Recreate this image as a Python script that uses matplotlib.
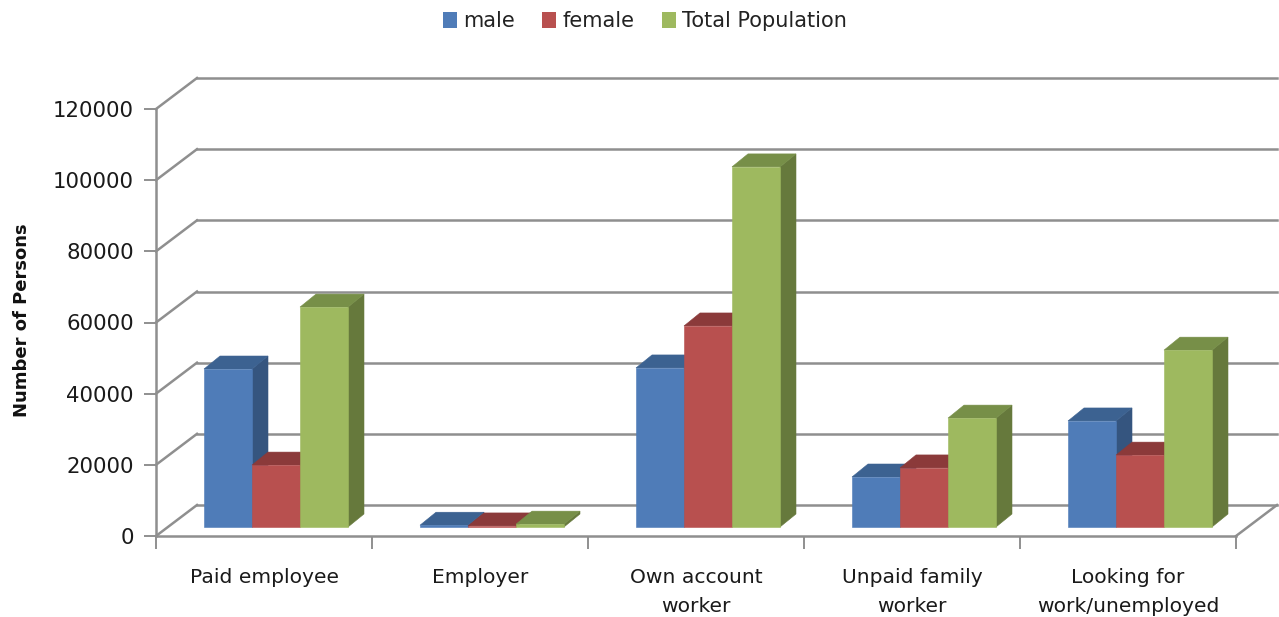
import numpy as np
import matplotlib
matplotlib.use('Agg')
import matplotlib.pyplot as plt
from matplotlib.patches import Polygon, Patch
from matplotlib.transforms import IdentityTransform

categories = ['Paid employee', 'Employer', 'Own account\nworker', 'Unpaid family\nworker', 'Looking for\nwork/unemployed']
male = [44400, 500, 44700, 14050, 29800]
female = [17400, 300, 56500, 16600, 20200]
total = [61800, 800, 101200, 30600, 49700]
y_ticks = [0, 20000, 40000, 60000, 80000, 100000, 120000]

W, H = 1279, 617
GREY = '#8f8f8f'
WALL = (41, 31)      # pixels from front of floor to back wall
BAR_FRONT = (12, 9)
BAR_BACK = (28, 22)
bar_w = 0.2222

fig = plt.figure(figsize=(W / 100, H / 100), dpi=100)
ax = fig.add_axes([156 / W, 1 - 536 / H, (1236 - 156) / W, (536 - 109) / H])
ax.set_xlim(-0.5, 4.5)
ax.set_ylim(0, 120000)
ax.patch.set_visible(False)


def pt(x, y, off=(0, 0)):
    px, py = ax.transData.transform((x, y))
    return (px + off[0], py + off[1])


def poly(points, color, z):
    ax.add_patch(Polygon(points, closed=True, facecolor=color, edgecolor=color, linewidth=0.4,
                         transform=IdentityTransform(), clip_on=False, zorder=z))


def seg(a, b, lw=1.8):
    ax.add_line(plt.Line2D([a[0], b[0]], [a[1], b[1]], color=GREY, linewidth=lw,
                           transform=IdentityTransform(), clip_on=False, zorder=1))


# back wall grid + left wall
for v in y_ticks:
    seg(pt(-0.5, v), pt(-0.5, v, WALL))
    seg(pt(-0.5, v, WALL), pt(4.5, v, WALL))
seg(pt(4.5, 0), pt(4.5, 0, WALL))

# 3d bars
series = [
    (male, '#4f7cb8', '#3c6291', '#35557f', -1),
    (female, '#b8504f', '#8b3a3a', '#7c3333', 0),
    (total, '#9eb95f', '#778f48', '#66793c', 1),
]
z = 3
for i in range(len(categories)):
    for vals, front, top, side, k in series:
        x0 = i + (k - 0.5) * bar_w
        x1 = x0 + bar_w
        v = vals[i]
        poly([pt(x1, 0, BAR_FRONT), pt(x1, 0, BAR_BACK), pt(x1, v, BAR_BACK), pt(x1, v, BAR_FRONT)], side, z)
        poly([pt(x0, v, BAR_FRONT), pt(x1, v, BAR_FRONT), pt(x1, v, BAR_BACK), pt(x0, v, BAR_BACK)], top, z)
        poly([pt(x0, 0, BAR_FRONT), pt(x1, 0, BAR_FRONT), pt(x1, v, BAR_FRONT), pt(x0, v, BAR_FRONT)], front, z)
        z += 1

# axes
for s in ['top', 'right']:
    ax.spines[s].set_visible(False)
for s in ['left', 'bottom']:
    ax.spines[s].set_color(GREY)
    ax.spines[s].set_linewidth(1.8)
    ax.spines[s].set_zorder(2)

ax.set_yticks(y_ticks)
ax.tick_params(axis='y', length=9, width=1.4, color=GREY, labelsize=15.3, pad=7, labelcolor='#1a1a1a')
ax.set_xticks(np.arange(-0.5, 5, 1))
ax.set_xticklabels([])
ax.tick_params(axis='x', which='major', length=9, width=1.4, color=GREY)
ax.set_xticks(np.arange(5), minor=True)
ax.set_xticklabels(categories, minor=True, fontsize=14.6, linespacing=1.65, color='#1a1a1a')
ax.tick_params(axis='x', which='minor', length=0, pad=23)

fig.text(22 / W, 1 - 320 / H, 'Number of Persons', rotation=90, ha='center', va='center',
         fontsize=13, fontweight='bold', color='#111111')

handles = [Patch(facecolor=s[1], label=n) for s, n in zip(series, ['male', 'female', 'Total Population'])]
fig.legend(handles=handles, loc='center', bbox_to_anchor=(645 / W, 1 - 21 / H), ncol=3, frameon=False,
           fontsize=15, handlelength=0.67, handleheight=0.8, handletextpad=0.3, columnspacing=1.3,
           labelcolor='#222222')

fig.savefig('out.png', dpi=100)
